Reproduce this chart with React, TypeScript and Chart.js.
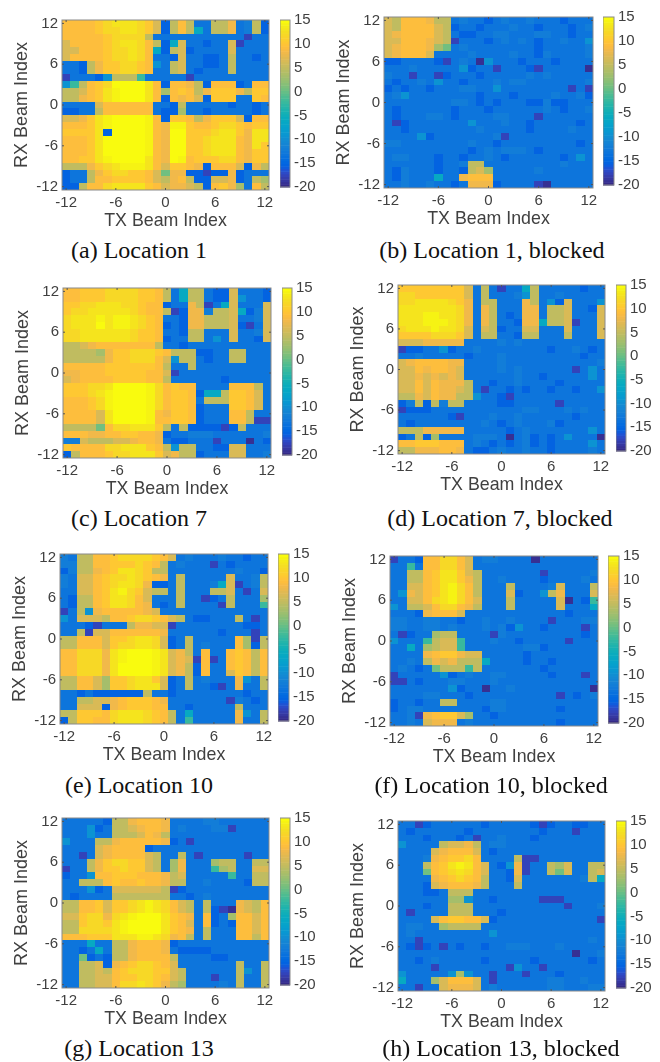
import React, { useEffect, useRef } from "react";
import { Chart, registerables } from "chart.js";

Chart.register(...registerables);

// Level codes (dB), one letter per heat-map cell.
const levelCodes = "abcdefghijklmnopqrs";
const levelValues = [-19, -17.5, -15.2, -13.4, -12, -9.5, -6, -2.5, 0.5, 3, 5, 6.5, 8, 9.2, 10.5, 12, 13, 14, 15];

const beamTicks = [-12, -6, 0, 6, 12];
const colorbarTicks = [-20, -15, -10, -5, 0, 5, 10, 15];
const captions = [
  "(a) Location 1",
  "(b) Location 1, blocked",
  "(c) Location 7",
  "(d) Location 7, blocked",
  "(e) Location 10",
  "(f) Location 10, blocked",
  "(g) Location 13",
  "(h) Location 13, blocked",
];

// Rows run from RX +12 (top) to RX -12 (bottom); columns from TX -12 to TX +12.
const location1 = [
  "nnnno pqqqp olckn kddkk mdekc",
  "nnnno ppqqp olckn kgdkk mdekc",
  "nnnnn opppp kdddd ddddd ddbdd",
  "lnnnn opqqp nkcgl ddcdd lbddd",
  "llnnn oppqp ngckl cdddd ldddd",
  "lnnnn oppqp nddcl ddccd kddcd",
  "ddckm ooppo nfdkl ddccd kdddd",
  "ddckm ooppo nddkl dcddd kdddd",
  "bdddc fkkkh ddddd bdddd ddddd",
  "fhkno pssss qncnn mkcnn ncdnn",
  "kklno qrsss qnjno nkmoo omkoo",
  "kkmno qrsss qncnm nlcoo oddon",
  "ddddl nnnnn nddck ddddd cddcd",
  "ccddk nnnnn ndccj ddcdd dddcd",
  "llmoq rssss rncoo nkmoo olcnn",
  "nnnoq rssss rnmrr onnop ponoo",
  "ooooq cssss rnmss ooopq qomqq",
  "nnnoq sssss rnmss oopqq qnmqq",
  "nnnoq sssss rnmss oopqq qnmqo",
  "nnnoq sssss rnmss oopqq qnmoo",
  "nnooq rssss qnmsr nooop pnmoo",
  "kkkmo pqrrr qnloo nmcnn nlcmk",
  "cddkm oppoo nlimm ccbcc mcddd",
  "cddkn noooo nlkmn kccll mcdkj",
  "ccknn pqqqq onlmm lkcno mjdnk",
];
const location1Blocked = [
  "lknnn mkkde ddcde ddedd dcddd",
  "lknnn nlkcd dcddd eddcd ddcde",
  "lmnnn nlkdc cddee dddee ddcdd",
  "llnnn mlkbd ddcde dedcd deddf",
  "lmnnn mjide ddddd dddcd dddde",
  "lmnnn ldddd edddd eddce dddde",
  "ccddd dcbde dafdd dcddd cdddd",
  "ddded ddddf cddbd ddcbd dddda",
  "eddbd dbcdd dcddd ddede ddddd",
  "dcdde dfddc ddded eeddd dddde",
  "cdcdd cddde eddfd ddddd ddbdb",
  "defdd ddddd dcddd cdddd eddec",
  "ddddd dddee dcdcd ddcce ccddd",
  "dcddd dddcd ddcdd dddde dcdde",
  "dcddd eedcd dddee dddbd ddddd",
  "dbcdd ddddd fddde ddcdd dddcd",
  "ddcdd ddddd deddd ddcdd ddedd",
  "ddddf cdddd dddeb ddddd ddddd",
  "eeddd ddddd eddcd ddddd dddcd",
  "ddddd ddddd cdede eedcd ddddd",
  "deedd dcddc ddedc ddddd dcdfd",
  "ddddd dcdde kkddd ddddd deddd",
  "dcedd dcddc kljdd ddded ddddd",
  "dcedd dgddm nnndd ddddd ddddd",
  "ddedd eddcd mmmcd dddba ddddd",
];
const location7 = [
  "nnooo ppppo onkdg kkdcc ldddc",
  "nnooo ppppo onkdg kkdcc lfddc",
  "ooppq qqppo nncdd mkbdg ldddl",
  "oppqq qqqpo nnkbc mmekk lgcel",
  "pqqqr qrrqp onddc mmkkk lddel",
  "pqqqs qrrqp oncdc mmkkk lcbdl",
  "ppqqq qqqpo onddc kkddd lddel",
  "ppqqq qqqpo oncdd kkdfd lddcl",
  "kklmn nnnnn nkddc ddddd ddddd",
  "kkkkj moopp ponkk kccdd kkddd",
  "kkkkk moopp pnlfk kdcdd kkddd",
  "nnnnn ooooo onkdd kdddd ddddd",
  "mmnnn ooooo nnlbd ddddd ddddd",
  "lmnnn noooo nnkdd ddddc ddddd",
  "ooopp qssss rpnon ndddd nnnkd",
  "ooopq rssss rpnoo ncggk oonld",
  "nnnop rssss rpnoo ndkkk oonld",
  "nnnop rssss rpnoo ncddd oonld",
  "nnnnl qssss rnmoo ncddd nnkdd",
  "nnnnl qssss rnnoo ncddd nnkbb",
  "kkkki nppqq qokdk ccccb ckddd",
  "nnnmm nnoon nmcdd eeedd dddde",
  "eelkk kllmn nmdcc dddbd ddadc",
  "onnnn ppqqq onkfk kddcc llddd",
  "cknnn oppqq qolmk kcddd lldde",
];
const location7Blocked = [
  "ooooo oool d kdbdd gkddd ddcdd",
  "ppooo ooold kddde fkdde ddddd",
  "ppqqq qpomd kkddd mkdfc ldddf",
  "qqqqq qqpmd mkddd mmdkk lddcl",
  "qqqrr qqpmd mkdcd mmdkk ldddl",
  "qqqrr rqpmd mkddc mmgkk lbddl",
  "pqqqr qqpld lkcdd llddd ldddl",
  "oooop ppold kkddc kkddd kdddl",
  "lllmm mmmdd ddede ddddd ddddd",
  "bccdd fcdde ddddd dddcd dedcd",
  "ddedd dddcd ddedd ddddd ddcdd",
  "lmnnn nmmdd ddedd ddddd dddde",
  "llnmn nmldd ddede ddddd dbdfd",
  "llmlm lmldd dddde ddcdd dddfd",
  "llnln mmmkd dcdde ddddc ddddd",
  "llnln mmlkd bddcd cddcd dcddf",
  "kkmln mmkkf ddcbd ddddd ddddd",
  "cekck ekkdd ddccd ddddb ddddd",
  "bcccd ddddd ddddd eeddd ededd",
  "ddddd dcbdd dedde ddddd dcddd",
  "dcddd ddddd edcde dddec ddddd",
  "kkkmm mmmdd dddcd edddd dddfd",
  "cdkcj dddde eedad ecdcd fddda",
  "nnooo nnnde dcdcd ecdcd dddfd",
  "kkmmm nnmdc cdedd eddcd ddded",
];
const location10 = [
  "edkkn noppp ponld eddde ddcdd",
  "eekkn nooop onkde dddbd cdddd",
  "cekkm noqqp okkdd ddddd deddc",
  "edlln oppqp onmdk ddddd lddek",
  "edlln opqqp mccdk dddeg lbdek",
  "ddlln oqrpo lkkdk dddkk ldbdl",
  "dckkn oqqpn ldddk ddbcd kdddj",
  "dckkn oqqpn mdcdk ddddb kdddh",
  "bdkfm nnnnn mlddd ddddd ddddd",
  "fdlll knnop ponlk dccdd dkdbd",
  "dddcb dddkm mllbd ddddd ddccd",
  "ddkbl lnnnn nnmdd ddddc dddbd",
  "kknnn loopq qplcd kdddd dnjbk",
  "kknnn loppq qplcd kdedd dnjck",
  "nnppp mqrss srqlm kdndd nonkn",
  "nnppp mqrss srqlm lbnbd nonkn",
  "nnppp mqsss srqlm kcndd nonkn",
  "nnppp mqsss srqlm kcndd lonkn",
  "kknnl joopq qolcd kdedd dmfdk",
  "kknnl joopq qqlcd kddcb dmddk",
  "ddcdc ccccc kddcd ddddd ddcdd",
  "ddkkl lmnoo onmdd ddddd bedcd",
  "ddlll cmnoo onndd cdddd dkddd",
  "kkooo npqqq ponkd gdddd dmfdk",
  "ckoon npqqq ponkd hdddd dmddk",
];
const location10Blocked = [
  "bddcn nppnl deedd ddadd ddddd",
  "ddhdn nppnl ddddd ddddd ddddd",
  "ddkkn oqqol kdddd dddbd dddde",
  "ddkkn oqqom kdded dddcd ddded",
  "ddlln oqrpn kdddk dddde ldddk",
  "dfmln oqrpn kdddl cddfk mdddl",
  "ddlln pqrpn ldddk ddddd ladch",
  "fdkkl nppnm kdddk ddddd ldddg",
  "dddcm nnnld ddddd ddddd dcddd",
  "eedde eddcd dedde ddddb dddee",
  "eedde ededd dedec fddcd dddbd",
  "dbcdd jkkdd ddbed ddddd dddcd",
  "fdddh kllhd ddedd cdddd dbddd",
  "ddgdj kllhd ddddd deecd ddddd",
  "ddddm nooml ldddd dcddd ddddd",
  "ddedk mlmkk kgddd dcddc ddddd",
  "dedcd ikkkh kdddd dddcd ddddd",
  "bdddd dfcde ddeed ddddc dddbd",
  "bbdcd ddeed ddedd ddddd ddddd",
  "ddddd ddfcd dadde ddddd dddda",
  "dddde edddc ddddd ddddd bdcde",
  "cddcd dkkdd ddeed ddddd ddddd",
  "cdeed ddddd dceed ddddd cdddd",
  "ddebm noolj ddcdd ddddd ddddd",
  "ddedl mmmde ddddd ddddd cdddd",
];
const location13 = [
  "ddddd ckkmn nnmdd ddeed ddddd",
  "dddfc dkklm nnmde dddee bdddd",
  "dddfd dkkkl nmkdd ddddd ddddd",
  "fdddk kmnnn nnmcd bdddd ddddd",
  "ddddl mnnnn cdddd ddddd ddddd",
  "ddbdl mnnnn lkddk dbddd ddbdd",
  "dddkm oppoo lkdjm dddjk kddkk",
  "bddkm oopoo lkdjm dddhj kddll",
  "cddfn nooon nnmkl ddddd hddkk",
  "ddkkk nonno nnmkk ddedd ddckk",
  "dddfc dllll llkbc ddddd ddddd",
  "dcddd dkkkk kkkdd cdedd ddddd",
  "kknno loopq rqpnl kdkdd dmlkn",
  "kknno loopq rqpnl kdkcb amlkn",
  "llopp mpqrs ssqon mdncd jnnln",
  "kkopp oqrss ssqon ldncd cnnln",
  "kkppp pqrss ssqon mdkdd dnnln",
  "nnnoo oqqqr rqpmn kdkdd dnnkn",
  "dddgd dkkmn nnmcd ddddd ddddd",
  "ddcdg dkkmn nnmdc cccdd ddddd",
  "ddicd ckkmn nnnkd dddcc ddddd",
  "ddkkl cmnop ponld ddddd dkddk",
  "ddkkl knopp poolk ddddd dkfdk",
  "ddkkl lnoop ponlk dddbd dkddk",
  "ddkkl lnppq pomkj dddde dkddk",
];
const location13Blocked = [
  "ddbcd ddddd cdddd dcbcd dccdd",
  "dcddd dddcd ddddd ddcdd dbddd",
  "dddcd ddcdb ddedd dcddd ddddd",
  "fdddd kllmk deedd ddddd ddddd",
  "ddddl mnnnl dcddd ddddd ddddd",
  "dddem noopn ddddk bbddd ddddd",
  "dddkn oqrqn ldcfm bddkj lddkk",
  "dddin opqpn lddcm bddki lddkl",
  "ddddm nopon kddcl ddddd ddekg",
  "dddcl mnnnm kdddk ddddd ddddd",
  "dddcc dkkkd ddddd ddddd ddddd",
  "ddddd djjfd dcddd ddbbb ddddd",
  "dddcd dkkkd ddddd ddddd bddde",
  "dbddd dkkkd ddcdd ddddd ddddd",
  "ddddl noonn lcddd ddddd ddddb",
  "deedd jkkkk ddddd ddddd ddddd",
  "deddd ddddd dfddd ddddd ddddd",
  "ddbdd ddddd ddddd ddddd ddded",
  "dcbcd bdcdd cddee eddde ddddd",
  "ddddd ddddd ddddd ddddd dadde",
  "ddcde ddddd cdddd dcddd dddcd",
  "ddddb ddddd dddbf ddbdd ddddd",
  "fdddd dfjfd dbddd bdddc ddddd",
  "gdddj lnnnl dbddd dddee ddedd",
  "ddbdd lmmml deddd dddee dddee",
];
const panelRows = [
  location1, location1Blocked, location7, location7Blocked,
  location10, location10Blocked, location13, location13Blocked,
];

// Page layout: plot box [left, top, right, bottom], colour bar [left, right], caption [centre x, centre y].
const plotBoxes = [
  [62, 17, 269, 190], [384, 14, 593, 188], [63, 285, 271, 458], [398, 282, 605, 454],
  [60, 551, 268, 724], [390, 553, 598, 726], [62, 815, 269, 988], [398, 818, 605, 991],
];
const barBoxes = [
  [280, 290], [603, 614], [282, 292], [616, 626],
  [278, 289], [608, 619], [280, 290], [616, 626],
];
const captionSpots = [
  [139, 250], [492, 250], [139, 518], [500, 518],
  [139, 785], [491, 785], [139, 1048], [501, 1048],
];

const parula = [
  [.2081,.1663,.5292],[.2116,.1898,.5777],[.2123,.2138,.627],[.2081,.2386,.6771],[.1959,.2645,.7279],[.1707,.2919,.7792],[.1253,.3242,.8303],[.0591,.3598,.8683],
  [.0117,.3875,.882],[.006,.4086,.8828],[.0165,.4266,.8786],[.0329,.443,.872],[.0498,.4586,.8641],[.0629,.4737,.8554],[.0723,.4887,.8467],[.0779,.504,.8384],
  [.0793,.52,.8312],[.0749,.5375,.8263],[.0641,.557,.824],[.0488,.5772,.8228],[.0343,.5966,.8199],[.0265,.6137,.8135],[.0239,.6287,.8038],[.0231,.6418,.7913],
  [.0228,.6535,.7768],[.0267,.6642,.7607],[.0384,.6743,.7436],[.059,.6838,.7254],[.0843,.6928,.7062],[.1133,.7015,.6859],[.1453,.7098,.6646],[.1801,.7177,.6424],
  [.2178,.725,.6193],[.2586,.7317,.5954],[.3022,.7376,.5712],[.3482,.7424,.5473],[.3953,.7459,.5244],[.442,.7481,.5033],[.4871,.7491,.484],[.53,.7491,.4661],
  [.5709,.7485,.4494],[.6099,.7473,.4337],[.6473,.7456,.4188],[.6834,.7435,.4044],[.7184,.7411,.3905],[.7525,.7384,.3768],[.7858,.7356,.3633],[.8185,.7327,.3498],
  [.8507,.7299,.336],[.8824,.7274,.3217],[.9139,.7258,.3063],[.945,.7261,.2886],[.9739,.7314,.2666],[.9938,.7455,.2403],[.999,.7653,.2164],[.9955,.7861,.1967],
  [.988,.8066,.1794],[.9789,.8271,.1633],[.9697,.8481,.1475],[.9626,.8705,.1309],[.9589,.8949,.1132],[.9598,.9218,.0948],[.9661,.9514,.0755],[.9763,.9831,.0538],
];

const V_MIN = -20;
const V_MAX = 15;
const TEXT = "#404040";
const EDGE = "#8a8a8a";
const SANS = "'Liberation Sans', Arial, sans-serif";

function colorOf(v: number) {
  const i = Math.max(0, Math.min(63, Math.floor(((v - V_MIN) / (V_MAX - V_MIN)) * 64)));
  const [r, g, b] = parula[i];
  return `rgb(${Math.round(r * 255)},${Math.round(g * 255)},${Math.round(b * 255)})`;
}

function decode(rows: string[]) {
  const cells: { x: number; y: number; v: number }[] = [];
  rows.forEach((row, r) => {
    const chars = row.replace(/\s/g, "");
    for (let c = 0; c < 25; c++) {
      const k = levelCodes.indexOf(chars[c] ?? "d");
      cells.push({ x: c - 12, y: 12 - r, v: levelValues[k < 0 ? 3 : k] });
    }
  });
  return cells;
}

const fixedTicks = (values: number[]) => (scale: any) => {
  scale.ticks = values.map((value) => ({ value }));
};
const fixedSize = (prop: "width" | "height", size: number) => (scale: any) => {
  scale[prop] = size;
};

const heatPlugin = {
  id: "heatCells",
  beforeDatasetsDraw(chart: any) {
    const { ctx, scales, chartArea: a } = chart;
    const xs = scales.x;
    const ys = scales.y;
    ctx.save();
    for (const cell of chart.data.datasets[0].data) {
      const x0 = Math.round(xs.getPixelForValue(cell.x - 0.5));
      const x1 = Math.round(xs.getPixelForValue(cell.x + 0.5));
      const y0 = Math.round(ys.getPixelForValue(cell.y + 0.5));
      const y1 = Math.round(ys.getPixelForValue(cell.y - 0.5));
      ctx.fillStyle = colorOf(cell.v);
      ctx.fillRect(x0, y0, x1 - x0, y1 - y0);
    }
    ctx.strokeStyle = EDGE;
    ctx.lineWidth = 1;
    ctx.strokeRect(a.left, a.top, a.right - a.left, a.bottom - a.top);
    ctx.strokeStyle = "#555";
    ctx.beginPath();
    for (const t of beamTicks) {
      const px = xs.getPixelForValue(t);
      ctx.moveTo(px, a.bottom);
      ctx.lineTo(px, a.bottom - 2);
      ctx.moveTo(px, a.top);
      ctx.lineTo(px, a.top + 2);
      const py = ys.getPixelForValue(t);
      ctx.moveTo(a.left, py);
      ctx.lineTo(a.left + 2, py);
      ctx.moveTo(a.right, py);
      ctx.lineTo(a.right - 2, py);
    }
    ctx.stroke();
    ctx.restore();
  },
};

const barPlugin = {
  id: "colorBar",
  beforeDatasetsDraw(chart: any) {
    const { ctx, scales, chartArea: a } = chart;
    const ys = scales.y;
    ctx.save();
    for (let i = 0; i < 64; i++) {
      const lo = V_MIN + ((V_MAX - V_MIN) * i) / 64;
      const hi = V_MIN + ((V_MAX - V_MIN) * (i + 1)) / 64;
      const y0 = ys.getPixelForValue(hi);
      const y1 = ys.getPixelForValue(lo);
      ctx.fillStyle = colorOf(lo + 0.001);
      ctx.fillRect(a.left, y0, a.right - a.left, y1 - y0 + 0.5);
    }
    ctx.strokeStyle = EDGE;
    ctx.lineWidth = 1;
    ctx.strokeRect(a.left, a.top, a.right - a.left, a.bottom - a.top);
    ctx.restore();
  },
};

const PAD_TOP = 10;
const AXIS_LEFT = 60;
const AXIS_BOTTOM = 45;
const PAD_RIGHT = 14;
const BAR_AXIS = 34;

function Panel({ index }: { index: number }) {
  const heatRef = useRef<HTMLCanvasElement>(null);
  const barRef = useRef<HTMLCanvasElement>(null);
  const [l, t, r, b] = plotBoxes[index];
  const [bl, br] = barBoxes[index];
  const [cx, cy] = captionSpots[index];
  const w = r - l;
  const h = b - t;

  useEffect(() => {
    const heat = new Chart(heatRef.current as HTMLCanvasElement, {
      type: "scatter",
      data: {
        datasets: [{ label: captions[index], data: decode(panelRows[index]) as any, pointRadius: 0, pointHoverRadius: 0 }],
      },
      plugins: [heatPlugin],
      options: {
        animation: false,
        responsive: false,
        events: [],
        layout: { padding: { top: PAD_TOP, right: PAD_RIGHT, left: 0, bottom: 0 } },
        plugins: { legend: { display: false }, tooltip: { enabled: false } },
        scales: {
          x: {
            type: "linear",
            min: -12.5,
            max: 12.5,
            afterBuildTicks: fixedTicks(beamTicks),
            afterFit: fixedSize("height", AXIS_BOTTOM),
            grid: { display: false, drawTicks: false },
            border: { display: false },
            ticks: { color: TEXT, font: { family: SANS, size: 15 }, padding: 4, maxRotation: 0, autoSkip: false },
            title: { display: true, text: "TX Beam Index", color: TEXT, font: { family: SANS, size: 17.8 }, padding: { top: 0, bottom: 3 } },
          },
          y: {
            type: "linear",
            min: -12.5,
            max: 12.5,
            afterBuildTicks: fixedTicks(beamTicks),
            afterFit: fixedSize("width", AXIS_LEFT),
            grid: { display: false, drawTicks: false },
            border: { display: false },
            ticks: { color: TEXT, font: { family: SANS, size: 15 }, padding: 4, autoSkip: false },
            title: { display: true, text: "RX Beam Index", color: TEXT, font: { family: SANS, size: 18 }, padding: { top: 9, bottom: 0 } },
          },
        },
      },
    } as any);
    const bar = new Chart(barRef.current as HTMLCanvasElement, {
      type: "scatter",
      data: { datasets: [{ label: "colour scale", data: [], pointRadius: 0 }] },
      plugins: [barPlugin],
      options: {
        animation: false,
        responsive: false,
        events: [],
        layout: { padding: { top: PAD_TOP, bottom: PAD_TOP, left: 0, right: 0 } },
        plugins: { legend: { display: false }, tooltip: { enabled: false } },
        scales: {
          x: { type: "linear", display: false, min: 0, max: 1 },
          y: {
            type: "linear",
            position: "right",
            min: V_MIN,
            max: V_MAX,
            afterBuildTicks: fixedTicks(colorbarTicks),
            afterFit: fixedSize("width", BAR_AXIS),
            grid: { display: false, drawTicks: false },
            border: { display: false },
            ticks: { color: TEXT, font: { family: SANS, size: 15 }, padding: 4, autoSkip: false },
          },
        },
      },
    } as any);
    return () => {
      heat.destroy();
      bar.destroy();
    };
  }, [index]);

  return (
    <>
      <canvas
        ref={heatRef}
        width={AXIS_LEFT + w + PAD_RIGHT}
        height={PAD_TOP + h + AXIS_BOTTOM}
        style={{ position: "absolute", left: l - AXIS_LEFT, top: t - PAD_TOP, display: "block" }}
      />
      <canvas
        ref={barRef}
        width={br - bl + BAR_AXIS}
        height={h + PAD_TOP * 2}
        style={{ position: "absolute", left: bl, top: t - PAD_TOP, display: "block" }}
      />
      <div
        style={{
          position: "absolute",
          left: cx - 160,
          width: 320,
          top: cy - 15,
          height: 30,
          lineHeight: "30px",
          textAlign: "center",
          whiteSpace: "nowrap",
          fontFamily: "'Liberation Serif', 'Times New Roman', serif",
          fontSize: 24,
          color: "#111",
        }}
      >
        {captions[index]}
      </div>
    </>
  );
}

export default function App() {
  return (
    <div style={{ position: "absolute", left: 0, top: 0, width: 660, height: 1062, overflow: "hidden", background: "#fff", filter: "blur(0.6px)" }}>
      {captions.map((_, i) => (
        <Panel key={i} index={i} />
      ))}
    </div>
  );
}
